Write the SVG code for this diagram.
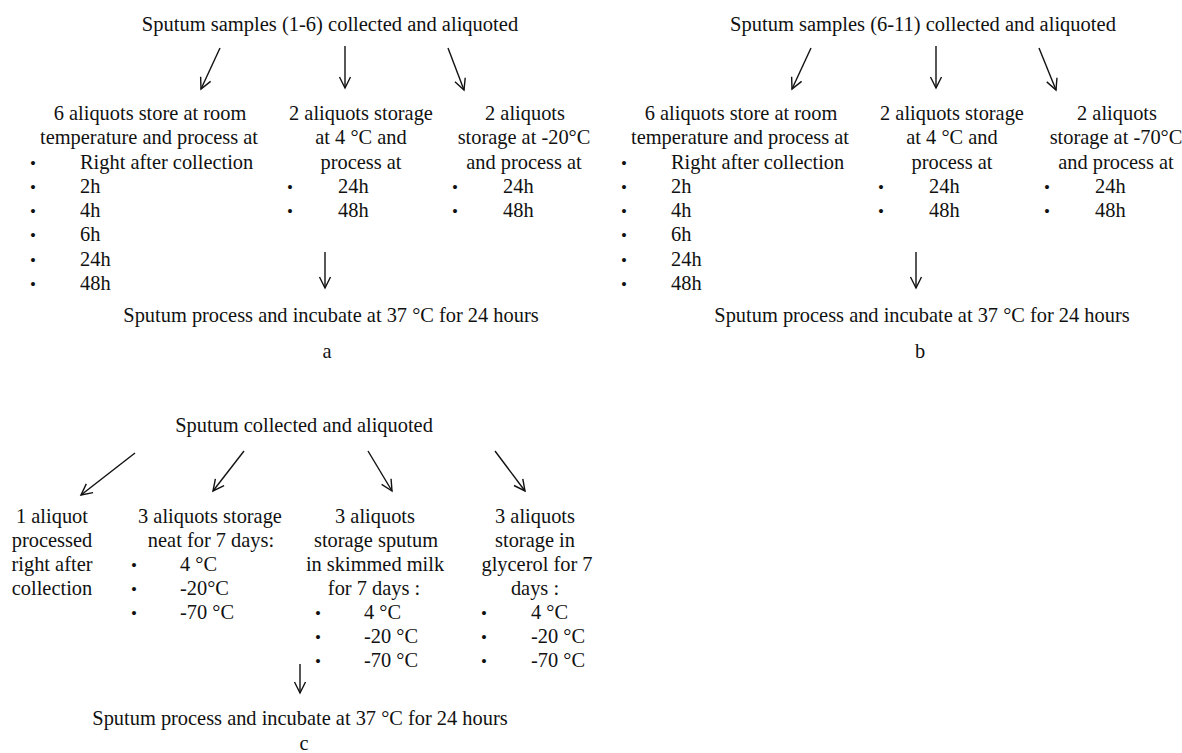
<svg xmlns="http://www.w3.org/2000/svg" width="1182" height="753" viewBox="0 0 1182 753">
<defs>
<marker id="ah" markerUnits="userSpaceOnUse" markerWidth="16" markerHeight="16" refX="0" refY="0" viewBox="-12 -8 14 16" orient="auto" overflow="visible">
<path d="M-11,-5.5 L0,0 L-11,5.5" fill="none" stroke="#111" stroke-width="1.4" stroke-linejoin="miter"/>
</marker>
<style>
text{font-family:"Liberation Serif","Times New Roman",serif;font-size:20.4px;fill:#111}
.m{text-anchor:middle}
.h{font-size:20.5px}
.b{font-size:17px}
.conn line{stroke:#111;stroke-width:1.4;fill:none;marker-end:url(#ah)}
</style>
</defs>
<rect width="1182" height="753" fill="#fff"/>

<g id="connectors" class="conn">
<line x1="220" y1="48" x2="201" y2="89"/>
<line x1="345" y1="46" x2="345" y2="88"/>
<line x1="448" y1="48" x2="464" y2="90"/>
<line x1="325" y1="252" x2="325" y2="288"/>
<line x1="811" y1="48" x2="792" y2="89"/>
<line x1="936" y1="46" x2="936" y2="88"/>
<line x1="1039" y1="48" x2="1056" y2="90"/>
<line x1="916" y1="252" x2="916" y2="288"/>
<line x1="135" y1="453" x2="81" y2="495"/>
<line x1="244" y1="451" x2="213" y2="491"/>
<line x1="368" y1="451" x2="392" y2="491"/>
<line x1="495" y1="451" x2="525" y2="491"/>
<line x1="300" y1="664" x2="300" y2="693"/>
</g>

<g id="a-title"><text class="m h" x="330" y="31">Sputum samples (1-6) collected and aliquoted</text></g>
<g id="a-room">
<text class="m" x="150" y="120">6 aliquots store at room</text>
<text class="m" x="149" y="144">temperature and process at</text>
<text class="b" x="30" y="169">•</text><text x="80" y="169">Right after collection</text>
<text class="b" x="30" y="193">•</text><text x="80" y="193">2h</text>
<text class="b" x="30" y="217">•</text><text x="80" y="217">4h</text>
<text class="b" x="30" y="241">•</text><text x="80" y="241">6h</text>
<text class="b" x="30" y="266">•</text><text x="80" y="266">24h</text>
<text class="b" x="30" y="290">•</text><text x="80" y="290">48h</text>
</g>
<g id="a-4c">
<text class="m" x="361" y="120">2 aliquots storage</text>
<text class="m" x="361" y="144">at 4 °C and</text>
<text class="m" x="361" y="169">process at</text>
<text class="b" x="287" y="193">•</text><text x="338" y="193">24h</text>
<text class="b" x="287" y="217">•</text><text x="338" y="217">48h</text>
</g>
<g id="a-m20">
<text class="m" x="525" y="120">2 aliquots</text>
<text class="m" x="524" y="144">storage at -20°C</text>
<text class="m" x="524" y="169">and process at</text>
<text class="b" x="452" y="193">•</text><text x="503" y="193">24h</text>
<text class="b" x="452" y="217">•</text><text x="503" y="217">48h</text>
</g>
<g id="a-process"><text class="m" x="331" y="322">Sputum process and incubate at 37 °C for 24 hours</text></g>
<g id="a-label"><text class="m" x="327" y="358">a</text></g>

<g id="b-title"><text class="m h" x="923" y="31">Sputum samples (6-11) collected and aliquoted</text></g>
<g id="b-room">
<text class="m" x="741" y="120">6 aliquots store at room</text>
<text class="m" x="740" y="144">temperature and process at</text>
<text class="b" x="621" y="169">•</text><text x="671" y="169">Right after collection</text>
<text class="b" x="621" y="193">•</text><text x="671" y="193">2h</text>
<text class="b" x="621" y="217">•</text><text x="671" y="217">4h</text>
<text class="b" x="621" y="241">•</text><text x="671" y="241">6h</text>
<text class="b" x="621" y="266">•</text><text x="671" y="266">24h</text>
<text class="b" x="621" y="290">•</text><text x="671" y="290">48h</text>
</g>
<g id="b-4c">
<text class="m" x="952" y="120">2 aliquots storage</text>
<text class="m" x="952" y="144">at 4 °C and</text>
<text class="m" x="952" y="169">process at</text>
<text class="b" x="878" y="193">•</text><text x="929" y="193">24h</text>
<text class="b" x="878" y="217">•</text><text x="929" y="217">48h</text>
</g>
<g id="b-m70">
<text class="m" x="1117" y="120">2 aliquots</text>
<text class="m" x="1116" y="144">storage at -70°C</text>
<text class="m" x="1116" y="169">and process at</text>
<text class="b" x="1044" y="193">•</text><text x="1095" y="193">24h</text>
<text class="b" x="1044" y="217">•</text><text x="1095" y="217">48h</text>
</g>
<g id="b-process"><text class="m" x="922" y="322">Sputum process and incubate at 37 °C for 24 hours</text></g>
<g id="b-label"><text class="m" x="920" y="358">b</text></g>

<g id="c-title"><text class="m" x="304" y="432">Sputum collected and aliquoted</text></g>
<g id="c-right">
<text class="m" x="52" y="523">1 aliquot</text>
<text class="m" x="52" y="547">processed</text>
<text class="m" x="52" y="571">right after</text>
<text class="m" x="52" y="595">collection</text>
</g>
<g id="c-neat">
<text class="m" x="210" y="523">3 aliquots storage</text>
<text class="m" x="211" y="547">neat for 7 days:</text>
<text class="b" x="131" y="571">•</text><text x="180" y="571">4 °C</text>
<text class="b" x="131" y="595">•</text><text x="180" y="595">-20°C</text>
<text class="b" x="131" y="619">•</text><text x="180" y="619">-70 °C</text>
</g>
<g id="c-milk">
<text class="m" x="375" y="523">3 aliquots</text>
<text class="m" x="376" y="547">storage sputum</text>
<text class="m" x="375" y="571">in skimmed milk</text>
<text class="m" x="374" y="595">for 7 days :</text>
<text class="b" x="315" y="619">•</text><text x="364" y="619">4 °C</text>
<text class="b" x="315" y="643">•</text><text x="364" y="643">-20 °C</text>
<text class="b" x="315" y="667">•</text><text x="364" y="667">-70 °C</text>
</g>
<g id="c-glycerol">
<text class="m" x="535" y="523">3 aliquots</text>
<text class="m" x="535" y="547">storage in</text>
<text class="m" x="537" y="571">glycerol for 7</text>
<text class="m" x="535" y="595">days :</text>
<text class="b" x="481" y="619">•</text><text x="531" y="619">4 °C</text>
<text class="b" x="481" y="643">•</text><text x="531" y="643">-20 °C</text>
<text class="b" x="481" y="667">•</text><text x="531" y="667">-70 °C</text>
</g>
<g id="c-process"><text class="m" x="300" y="725">Sputum process and incubate at 37 °C for 24 hours</text></g>
<g id="c-label"><text class="m" x="304" y="750">c</text></g>
</svg>
